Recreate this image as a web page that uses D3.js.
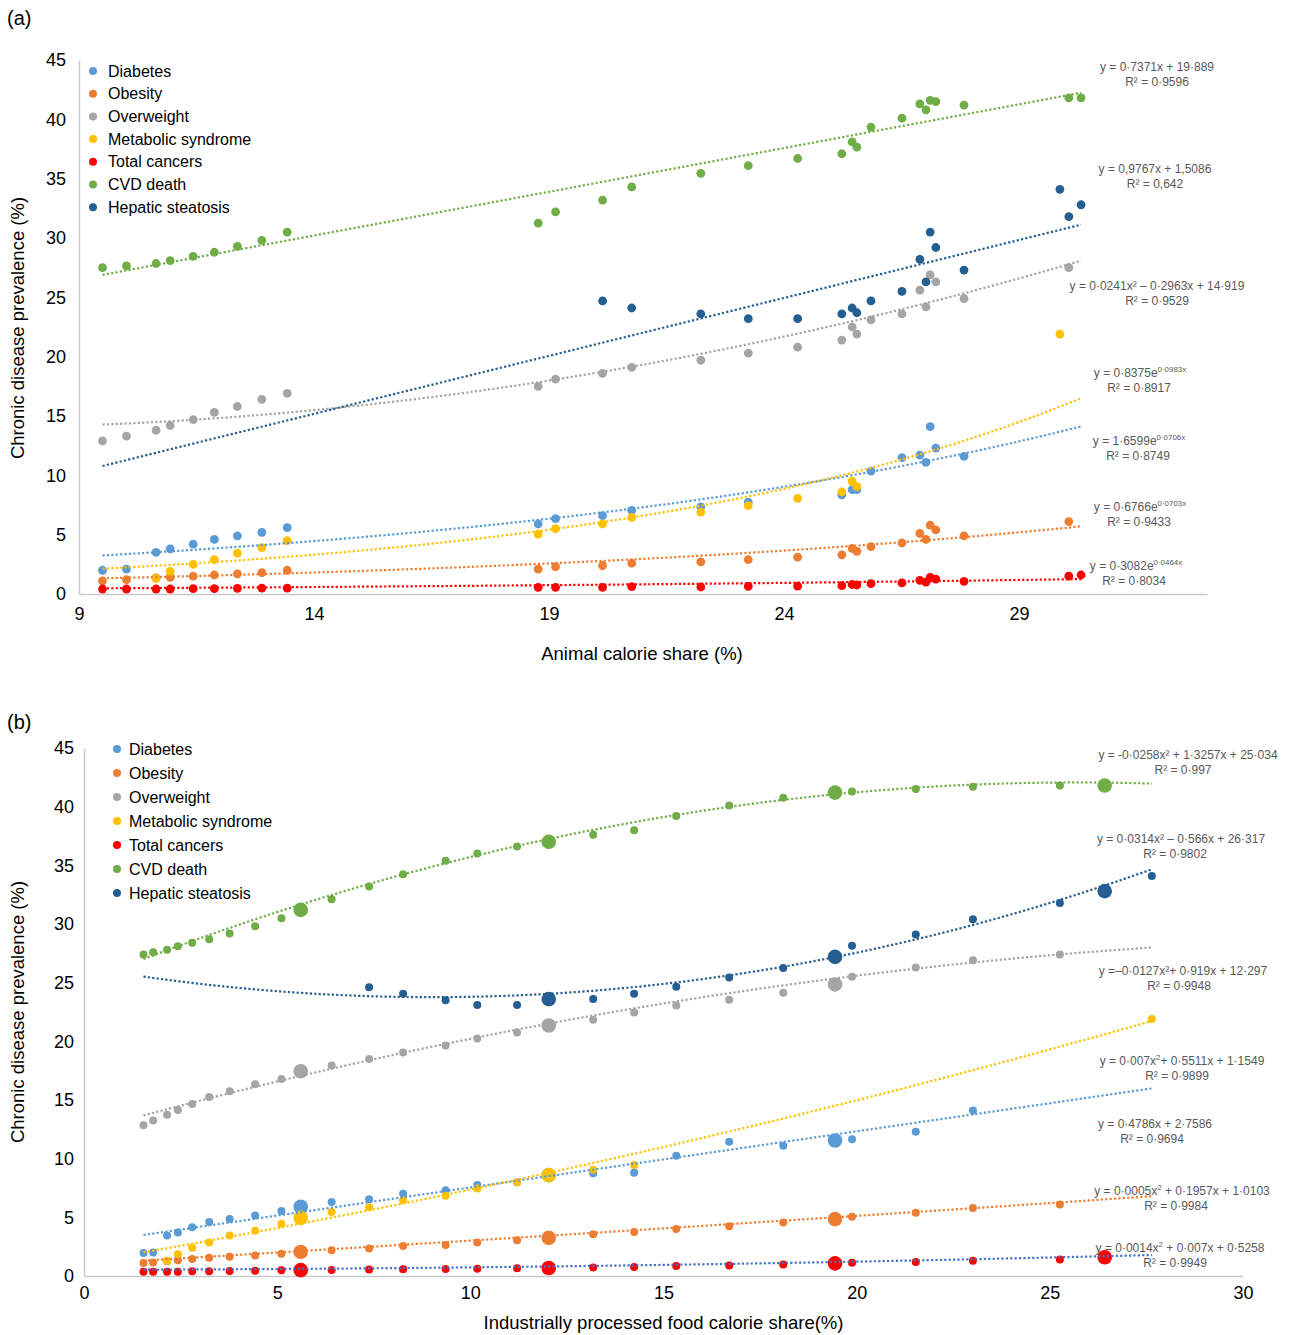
<!DOCTYPE html>
<html>
<head>
<meta charset="utf-8">
<script src="https://cdn.jsdelivr.net/npm/d3@7"></script>
<style>
  body { margin: 0; background: #fff; }
  svg { display: block; font-family: "Liberation Sans", Arial, sans-serif; }
</style>
</head>
<body>
<svg id="chart" width="1289" height="1335"></svg>
<script>
// ---- series shared by both panels ----
const seriesNames = ["Diabetes", "Obesity", "Overweight", "Metabolic syndrome",
                     "Total cancers", "CVD death", "Hepatic steatosis"];
const seriesColors = ["#5B9BD5", "#ED7D31", "#A5A5A5", "#FFC000",
                      "#FF0000", "#70AD47", "#255E91"];

// ---- panel (a): animal calorie share ----
const animalShare = [9.50, 10.01, 10.64, 10.94, 11.43, 11.88, 12.37, 12.89, 13.43,
  18.77, 19.14, 20.14, 20.76, 22.23, 23.24, 24.29, 25.23, 25.45, 25.55, 25.85,
  26.51, 26.89, 27.02, 27.11, 27.23, 27.83, 29.87, 30.06, 30.32];
const aDiabetes = [2.0, 2.1, 3.5, 3.8, 4.2, 4.6, 4.9, 5.2, 5.6,
  5.9, 6.35, 6.6, 7.05, 7.35, 7.75, null, 8.35, 8.8, 8.8, 10.35,
  11.5, 11.7, 11.1, 14.1, 12.3, 11.6, null, null, null];
const aObesity = [1.1, 1.2, 1.35, 1.4, 1.5, 1.6, 1.7, 1.8, 2.0,
  2.1, 2.3, 2.4, 2.6, 2.7, 2.9, 3.1, 3.3, 3.85, 3.6, 4.0,
  4.3, 5.1, 4.6, 5.8, 5.4, 4.9, null, 6.1, null];
const aOverweight = [12.9, 13.3, 13.8, 14.2, 14.7, 15.3, 15.8, 16.4, 16.9,
  17.5, 18.1, 18.6, 19.1, 19.7, 20.3, 20.8, 21.4, 22.5, 21.9, 23.1,
  23.6, 25.6, 24.2, 26.9, 26.3, 24.9, null, 27.5, null];
const aMetabolic = [null, null, 1.3, 1.9, 2.5, 2.9, 3.45, 3.9, 4.5,
  5.05, 5.5, 5.9, 6.45, 6.9, 7.45, 8.05, 8.6, 9.5, 9.05, null,
  null, null, null, null, null, null, 21.9, null, null];
const aCancers = [0.42, 0.42, 0.42, 0.42, 0.45, 0.45, 0.48, 0.5, 0.5,
  0.56, 0.56, 0.56, 0.62, 0.59, 0.65, 0.67, 0.7, 0.8, 0.76, 0.87,
  0.93, 1.15, 1.0, 1.4, 1.25, 1.07, null, 1.5, 1.6];
const aCVD = [27.5, 27.65, 27.85, 28.1, 28.45, 28.8, 29.3, 29.8, 30.5,
  31.25, 32.2, 33.2, 34.3, 35.45, 36.1, 36.7, 37.1, 38.1, 37.65, 39.35,
  40.1, 41.3, 40.8, 41.6, 41.5, 41.2, null, 41.8, 41.8];
const aHepatic = [null, null, null, null, null, null, null, null, null,
  null, null, 24.7, 24.1, 23.6, 23.2, 23.2, 23.6, 24.1, 23.7, 24.7,
  25.5, 28.2, 26.3, 30.5, 29.2, 27.3, 34.1, 31.8, 32.8];

// fitted trendlines for panel (a), same order as seriesNames
const aTrendKind = ["exp", "exp", "poly", "exp", "exp", "lin", "lin"];
const aTrendCoef = [[1.6599, 0.0706], [0.6766, 0.0703], [0.0241, -0.2963, 14.919],
  [0.8375, 0.0983], [0.3082, 0.0464], [0.7371, 19.889], [0.9767, 1.5086]];
const aEquations = ["y = 1·6599e^{0·0706x}", "y = 0·6766e^{0·0703x}",
  "y = 0·0241x² – 0·2963x + 14·919", "y = 0·8375e^{0·0983x}",
  "y = 0·3082e^{0·0464x}", "y = 0·7371x + 19·889", "y = 0,9767x + 1,5086"];
const aRSquared = ["R² = 0·8749", "R² = 0·9433", "R² = 0·9529", "R² = 0·8917",
  "R² = 0·8034", "R² = 0·9596", "R² = 0,642"];

const aXTickLabels = ["9", "14", "19", "24", "29"];
const yTickLabels = ["0", "5", "10", "15", "20", "25", "30", "35", "40", "45"];

// ---- panel (b): industrially processed food calorie share ----
const processedShare = [1.54, 1.79, 2.15, 2.43, 2.80, 3.24, 3.77, 4.43, 5.11, 5.61,
  6.41, 7.38, 8.26, 9.36, 10.18, 11.21, 12.03, 13.18, 14.24, 15.33,
  16.70, 18.10, 19.44, 19.88, 21.53, 23.01, 25.26, 26.42, 27.64];
// pooled (group average) observations, drawn with the larger marker
const bPooledIdx = [9, 16, 22, 27];
const bDiabetes = [1.95, 2.0, 3.45, 3.7, 4.15, 4.6, 4.85, 5.15, 5.55, 5.9,
  6.3, 6.55, 7.0, 7.3, 7.75, 8.0, 8.6, 8.75, 8.8, 10.25,
  11.45, 11.1, 11.55, 11.65, 12.3, 14.1, null, null, null];
const bObesity = [1.1, 1.15, 1.25, 1.35, 1.45, 1.55, 1.65, 1.75, 1.9, 2.05,
  2.2, 2.35, 2.55, 2.65, 2.85, 3.05, 3.25, 3.55, 3.75, 4.0,
  4.25, 4.55, 4.85, 5.05, 5.4, 5.8, 6.1, null, null];
const bOverweight = [12.85, 13.25, 13.75, 14.15, 14.65, 15.25, 15.75, 16.35, 16.8, 17.45,
  17.95, 18.5, 19.05, 19.65, 20.25, 20.75, 21.35, 21.85, 22.45, 23.05,
  23.55, 24.15, 24.85, 25.5, 26.3, 26.9, 27.4, null, null];
const bMetabolic = [null, null, 1.3, 1.85, 2.4, 2.85, 3.45, 3.85, 4.45, 4.95,
  5.45, 5.85, 6.45, 6.85, 7.45, 8.0, 8.6, 9.05, 9.45, null,
  null, null, null, null, null, null, null, null, 21.9];
const bCancers = [0.37, 0.37, 0.37, 0.37, 0.4, 0.4, 0.42, 0.45, 0.5, 0.5,
  0.52, 0.55, 0.57, 0.6, 0.62, 0.65, 0.68, 0.73, 0.77, 0.85,
  0.9, 0.98, 1.08, 1.13, 1.2, 1.3, 1.4, 1.6, null];
const bCVD = [27.4, 27.6, 27.8, 28.1, 28.4, 28.7, 29.2, 29.8, 30.5, 31.2,
  32.1, 33.2, 34.25, 35.4, 36.0, 36.6, 37.0, 37.6, 38.0, 39.2,
  40.1, 40.75, 41.2, 41.3, 41.5, 41.7, 41.8, 41.8, null];
const bHepatic = [null, null, null, null, null, null, null, null, null, null,
  null, 24.6, 24.05, 23.5, 23.1, 23.1, 23.6, 23.6, 24.05, 24.65,
  25.45, 26.25, 27.2, 28.15, 29.1, 30.4, 31.8, 32.8, 34.1];

const bTrendKind = ["poly", "poly", "poly", "poly", "poly", "poly", "poly"];
const bTrendCoef = [[0, 0.4786, 2.7586], [0.0005, 0.1957, 1.0103], [-0.0127, 0.919, 12.297],
  [0.007, 0.5511, 1.1549], [0.0014, 0.007, 0.5258], [-0.0258, 1.3257, 25.034],
  [0.0314, -0.566, 26.317]];
const bEquations = ["y = 0·4786x + 2·7586", "y = 0·0005x^{2} + 0·1957x + 1·0103",
  "y =–0·0127x²+ 0·919x + 12·297", "y = 0·007x^{2}+ 0·5511x + 1·1549",
  "y = 0·0014x^{2} + 0·007x + 0·5258", "y = -0·0258x² + 1·3257x + 25·034",
  "y = 0·0314x² – 0·566x + 26·317"];
const bRSquared = ["R² = 0·9694", "R² = 0·9984", "R² = 0·9948", "R² = 0·9899",
  "R² = 0·9949", "R² = 0·997", "R² = 0·9802"];

const bXTickLabels = ["0", "5", "10", "15", "20", "25", "30"];

// ---- drawing ----
const svg = d3.select("#chart");

function trendValue(kind, c, xv) {
  if (kind === "exp") return c[0] * Math.exp(c[1] * xv);
  if (kind === "lin") return c[0] * xv + c[1];
  return c[0] * xv * xv + c[1] * xv + c[2];
}

// text with ^{...} superscripts
function richText(sel, str, size) {
  const parts = str.split(/\^\{([^}]*)\}/);
  parts.forEach((p, k) => {
    if (p === "") return;
    if (k % 2 === 1) {
      sel.append("tspan").attr("font-size", size * 0.66).attr("dy", -size * 0.42).text(p);
    } else {
      const t = sel.append("tspan").attr("font-size", size).text(p);
      if (k > 0) t.attr("dy", size * 0.42);
    }
  });
}

function drawPanel(p) {
  const g = svg.append("g");
  const x = d3.scaleLinear().domain(p.xDomain).range(p.xRange);
  const y = d3.scaleLinear().domain([0, 45]).range(p.yRange);

  // panel tag
  g.append("text").attr("x", 7).attr("y", p.tagY).attr("font-size", 20)
    .attr("fill", "#000").text(p.tag);

  // axes
  const yAxis = g.append("g").attr("transform", `translate(${p.xRange[0]},0)`)
    .call(d3.axisLeft(y).tickValues(yTickLabels.map(Number)).tickSize(0)
      .tickPadding(p.yPad).tickFormat((d, i) => yTickLabels[i]));
  const xAxis = g.append("g").attr("transform", `translate(0,${p.yRange[0]})`)
    .call(d3.axisBottom(x).tickValues(p.xTickLabels.map(Number)).tickSize(0)
      .tickPadding(p.xPad).tickFormat((d, i) => p.xTickLabels[i]));
  [yAxis, xAxis].forEach(a => {
    a.select(".domain").attr("stroke", "#C9C9C9").attr("stroke-width", 1.5);
    a.selectAll("text").attr("font-size", 18).attr("fill", "#000")
      .attr("font-family", '"Liberation Sans", Arial, sans-serif');
  });

  // axis titles
  g.append("text").attr("x", (p.xRange[0] + p.xRange[1]) / 2 + p.xTitleShift)
    .attr("y", p.xTitleY).attr("text-anchor", "middle").attr("font-size", 18.5)
    .attr("fill", "#000").text(p.xTitle);
  g.append("text").attr("transform", `translate(24,${p.yTitleC}) rotate(-90)`)
    .attr("text-anchor", "middle").attr("font-size", 18.5).attr("fill", "#000")
    .text("Chronic disease prevalence (%)");

  // markers, in series order
  p.series.forEach((vals, s) => {
    const pts = p.xs.map((xv, i) => ({ x: xv, y: vals[i], i })).filter(d => d.y != null);
    g.append("g").selectAll("circle").data(pts).join("circle")
      .attr("cx", d => x(d.x)).attr("cy", d => y(d.y))
      .attr("r", d => (p.bigIdx && p.bigIdx.includes(d.i)) ? p.bigR : p.r)
      .attr("fill", seriesColors[s]);
  });

  // dotted trendlines over the full x span
  const [x0, x1] = d3.extent(p.xs);
  const samples = d3.range(0, 201).map(k => x0 + (x1 - x0) * k / 200);
  p.series.forEach((vals, s) => {
    const line = d3.line().x(d => x(d)).y(d => y(trendValue(p.kind[s], p.coef[s], d)));
    g.append("path").datum(samples).attr("d", line).attr("fill", "none")
      .attr("stroke", p.trendColors[s]).attr("stroke-width", 2.2)
      .attr("stroke-dasharray", "2.2 2.2");
  });

  // equation labels
  p.series.forEach((vals, s) => {
    const [cx, by] = p.eqPos[s];
    const t1 = g.append("text").attr("x", cx).attr("y", by).attr("text-anchor", "middle")
      .attr("fill", "#595959");
    richText(t1, p.eq[s], 12);
    g.append("text").attr("x", cx + p.r2Shift[s]).attr("y", by + 15).attr("text-anchor", "middle")
      .attr("fill", "#595959").attr("font-size", 12).text(p.r2[s]);
  });

  // legend
  const lg = g.append("g");
  seriesNames.forEach((name, s) => {
    const cy = p.legY + s * p.legStep;
    lg.append("circle").attr("cx", p.legX).attr("cy", cy).attr("r", 4)
      .attr("fill", seriesColors[s]);
    lg.append("text").attr("x", p.legX + p.legGap).attr("y", cy + 5.5)
      .attr("font-size", 16).attr("fill", "#000").text(name);
  });
}

drawPanel({
  tag: "(a)", tagY: 25,
  xs: animalShare,
  series: [aDiabetes, aObesity, aOverweight, aMetabolic, aCancers, aCVD, aHepatic],
  kind: aTrendKind, coef: aTrendCoef, eq: aEquations, r2: aRSquared,
  trendColors: seriesColors,
  xDomain: [9, 33], xRange: [79, 1207], yRange: [594, 60],
  xTickLabels: aXTickLabels, xPad: 13, yPad: 13,
  xTitle: "Animal calorie share (%)", xTitleY: 660, xTitleShift: -1,
  yTitleC: 328,
  r: 4.4,
  eqPos: [[1139, 445], [1140, 511], [1157, 290], [1140, 377], [1136, 570], [1157, 71], [1155, 173]],
  r2Shift: [-1, -1, 0, -1, -2, 0, 0],
  legX: 93, legY: 71, legStep: 22.7, legGap: 15
});

drawPanel({
  tag: "(b)", tagY: 729,
  xs: processedShare,
  series: [bDiabetes, bObesity, bOverweight, bMetabolic, bCancers, bCVD, bHepatic],
  kind: bTrendKind, coef: bTrendCoef, eq: bEquations, r2: bRSquared,
  trendColors: ["#5B9BD5", "#ED7D31", "#A5A5A5", "#FFC000", "#4472C4", "#70AD47", "#255E91"],
  bigIdx: bPooledIdx, bigR: 7.3,
  xDomain: [0, 30], xRange: [84, 1243], yRange: [1276, 748],
  xTickLabels: bXTickLabels, xPad: 10, yPad: 10,
  xTitle: "Industrially processed food calorie share(%)", xTitleY: 1329, xTitleShift: 0,
  yTitleC: 1012,
  r: 4.0,
  eqPos: [[1155, 1128], [1182, 1195], [1183, 975], [1182, 1065], [1180, 1252], [1188, 759], [1181, 843]],
  r2Shift: [-3, -6, -4, -5, -5, -5, -6],
  legX: 117, legY: 749, legStep: 24, legGap: 12
});
</script>
</body>
</html>
